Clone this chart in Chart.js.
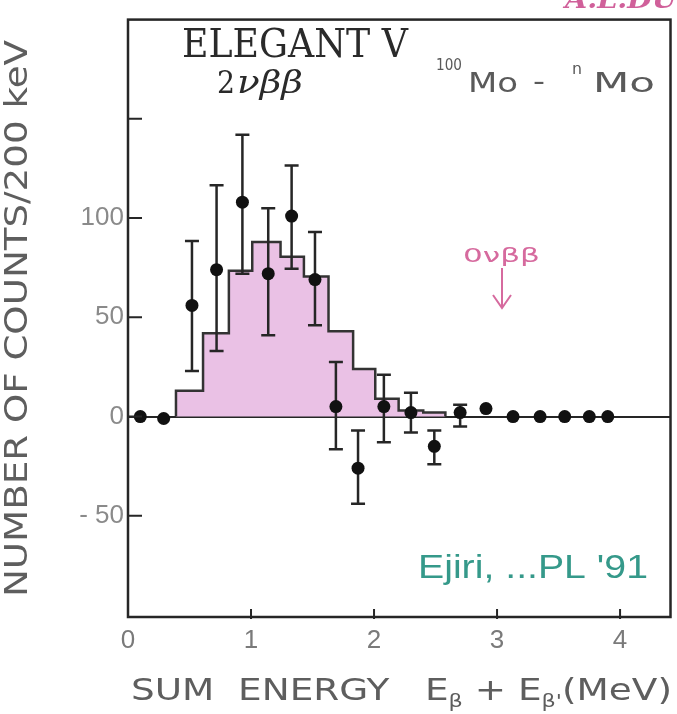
<!DOCTYPE html>
<html>
<head>
<meta charset="utf-8">
<title>ELEGANT V 2νββ sum energy spectrum</title>
<script src="https://cdn.jsdelivr.net/npm/chart.js@4.4.1/dist/chart.umd.min.js"></script>
<style>
  html, body { margin: 0; padding: 0; background: #fff; }
  canvas { display: block; }
</style>
</head>
<body>
<canvas id="myChart" width="677" height="714"></canvas>
<script>
// Expected 2vbb spectrum: bin edges (MeV) and counts in each bin
var binEdges = [0.39, 0.61, 0.82, 1.01, 1.24, 1.43, 1.63, 1.83, 2.01, 2.2, 2.4, 2.58];
var binCounts = [13, 42, 73.5, 88, 80.5, 70.5, 43, 24, 9, 3, 2];

// Measured 100Mo - natMo difference, with the ends of each error bar
var energies = [0.1, 0.29, 0.52, 0.72, 0.93, 1.14, 1.33, 1.52, 1.69, 1.87, 2.08, 2.3, 2.49, 2.7, 2.91, 3.13, 3.35, 3.55, 3.75, 3.9];
var counts   = [0, -1, 56, 74, 108, 72, 101, 69, 5, -26, 5, 2, -15, 2, 4, 0, 0, 0, 0, 0];
var errHigh  = [null, null, 88.5, 116.5, 142, 105, 126.5, 93, 27.5, -7, 21, 12, -7, 6, null, null, null, null, null, null];
var errLow   = [null, null, 23, 33, 72, 41, 74.5, 46, -16.5, -44, -13, -8, -24, -5, null, null, null, null, null, null];

// Axis ticks
var xTicks = [0, 1, 2, 3, 4];
var yTicks = [-50, 0, 50, 100, 150];
var yLabelled = [-50, 0, 50, 100];

// step outline: start on the baseline, hold each count to the next edge, drop back to 0
var histogram = [{ x: binEdges[0], y: 0 }];
for (var i = 0; i < binEdges.length; i++) {
  histogram.push({ x: binEdges[i], y: i < binCounts.length ? binCounts[i] : 0 });
}
var points = energies.map(function (e, i) { return { x: e, y: counts[i] }; });

var INK = '#262626';

function fitText(ctx, text, x, y, width) {
  var w = ctx.measureText(text).width;
  ctx.save();
  ctx.translate(x, y);
  ctx.scale(width / w, 1);
  ctx.textAlign = 'left';
  ctx.fillText(text, 0, 0);
  ctx.restore();
}

// text runs with subscripts, squeezed/stretched to a given width
function fitRuns(ctx, runs, x, y, width, font, subFont) {
  var total = 0;
  runs.forEach(function (r) { ctx.font = r[1] ? subFont : font; r.w = ctx.measureText(r[0]).width; total += r.w; });
  ctx.save();
  ctx.translate(x, y);
  ctx.scale(width / total, 1);
  var cx = 0;
  runs.forEach(function (r) {
    ctx.font = r[1] ? subFont : font;
    ctx.fillText(r[0], cx, r[1] ? 7 : 0);
    cx += r.w;
  });
  ctx.restore();
}

// error bars go in right before the dots, on top of the histogram
var errorBars = {
  id: 'errorBars',
  beforeDatasetDraw: function (chart, args) {
    if (args.index !== 1) return;
    var ctx = chart.ctx, xs = chart.scales.x, ys = chart.scales.y;
    ctx.save();
    ctx.strokeStyle = INK;
    ctx.lineWidth = 2.5;
    energies.forEach(function (e, i) {
      if (errHigh[i] === null) return;
      var px = xs.getPixelForValue(e);
      var top = ys.getPixelForValue(errHigh[i]);
      var bot = ys.getPixelForValue(errLow[i]);
      ctx.beginPath();
      ctx.moveTo(px, top); ctx.lineTo(px, bot);
      ctx.moveTo(px - 7, top); ctx.lineTo(px + 7, top);
      ctx.moveTo(px - 7, bot); ctx.lineTo(px + 7, bot);
      ctx.stroke();
    });
    ctx.restore();
  }
};

var frameAndText = {
  id: 'frameAndText',
  afterDraw: function (chart) {
    var ctx = chart.ctx, a = chart.chartArea, xs = chart.scales.x, ys = chart.scales.y;
    ctx.save();

    // frame
    ctx.strokeStyle = INK;
    ctx.lineWidth = 2.5;
    ctx.strokeRect(a.left, a.top, a.right - a.left, a.bottom - a.top);

    // inward tick marks
    ctx.lineWidth = 2;
    ctx.beginPath();
    yTicks.forEach(function (v) {
      var py = ys.getPixelForValue(v);
      ctx.moveTo(a.left, py); ctx.lineTo(a.left + 14, py);
    });
    xTicks.forEach(function (v) {
      if (v === 0) return;
      var px = xs.getPixelForValue(v);
      ctx.moveTo(px, a.bottom + 2); ctx.lineTo(px, a.bottom - 8);
    });
    ctx.stroke();

    ctx.textBaseline = 'alphabetic';

    // experiment name
    ctx.fillStyle = '#2a2a2a';
    ctx.font = '40px "DejaVu Serif"';
    fitText(ctx, 'ELEGANT V', 182, 57, 226);
    ctx.font = '32px "DejaVu Serif"';
    fitText(ctx, '2', 217, 93, 18);
    ctx.font = 'italic 32px "DejaVu Serif"';
    fitText(ctx, 'νββ', 237, 93, 66);

    // isotopes
    ctx.fillStyle = '#5a5a5a';
    ctx.font = '15px "DejaVu Sans"';
    fitText(ctx, '100', 436, 70, 26);
    ctx.font = '27px "DejaVu Sans"';
    fitText(ctx, 'Mo', 468, 92, 50);
    fitText(ctx, '-', 533, 90, 12);
    ctx.font = '15px "DejaVu Sans"';
    fitText(ctx, 'n', 572, 74, 10);
    ctx.font = '27px "DejaVu Sans"';
    fitText(ctx, 'Mo', 593, 92, 62);

    // 0vbb endpoint marker
    ctx.fillStyle = '#d66a9e';
    ctx.strokeStyle = '#d66a9e';
    ctx.font = '20px "DejaVu Sans"';
    fitText(ctx, '0νββ', 463, 262, 77);
    ctx.lineWidth = 2;
    ctx.beginPath();
    ctx.moveTo(502, 268); ctx.lineTo(502, 308);
    ctx.moveTo(493, 295); ctx.lineTo(502, 308); ctx.lineTo(511, 295);
    ctx.stroke();

    // reference
    ctx.fillStyle = '#35998a';
    ctx.font = '34px "Liberation Sans"';
    fitText(ctx, "Ejiri, ...PL '91", 418, 578, 230);

    // corner note, mostly cut off at the top edge
    ctx.fillStyle = '#d0609a';
    ctx.font = 'italic bold 26px "DejaVu Serif"';
    fitText(ctx, 'A.L.DU', 565, 8, 112);

    // axis titles
    ctx.fillStyle = '#5e5e5e';
    ctx.save();
    ctx.translate(27, 597);
    ctx.rotate(-Math.PI / 2);
    ctx.font = '32px "DejaVu Sans"';
    fitText(ctx, 'NUMBER OF COUNTS/200 keV', 0, 0, 557);
    ctx.restore();

    fitRuns(ctx, [['SUM  ENERGY   E', false], ['β', true], [' + E', false], ["β'", true], ['(MeV)', false]],
      131, 700, 541, '30px "DejaVu Sans"', '18px "DejaVu Sans"');

    ctx.restore();
  }
};

var myChart = new Chart(document.getElementById('myChart'), {
  type: 'scatter',
  data: {
    datasets: [
      {
        type: 'line',
        data: histogram,
        stepped: 'before',
        fill: 'origin',
        backgroundColor: '#eac1e5',
        borderColor: '#333',
        borderWidth: 2.5,
        pointRadius: 0,
        order: 2
      },
      {
        type: 'scatter',
        data: points,
        pointRadius: 6.5,
        backgroundColor: '#111',
        borderColor: '#111',
        borderWidth: 0,
        order: 1
      }
    ]
  },
  options: {
    responsive: false,
    animation: false,
    devicePixelRatio: 1,
    layout: { padding: { top: 15, right: 2, left: 0, bottom: 0 } },
    plugins: { legend: { display: false }, tooltip: { enabled: false } },
    scales: {
      x: {
        type: 'linear',
        min: 0,
        max: 4.41,
        afterBuildTicks: function (s) { s.ticks = xTicks.map(function (v) { return { value: v }; }); },
        afterFit: function (s) { s.height = 97; },
        grid: { display: false, drawTicks: false },
        border: { display: false },
        ticks: {
          padding: 8,
          color: '#7a7a7a',
          font: { family: 'Liberation Sans', size: 26 },
          maxRotation: 0
        }
      },
      y: {
        type: 'linear',
        min: -101,
        max: 200,
        afterBuildTicks: function (s) { s.ticks = yTicks.map(function (v) { return { value: v }; }); },
        afterFit: function (s) { s.width = 128; },
        grid: {
          drawTicks: false,
          lineWidth: 2,
          color: function (c) { return c.tick && c.tick.value === 0 ? '#262626' : 'rgba(0,0,0,0)'; }
        },
        border: { display: false },
        ticks: {
          padding: 4,
          color: '#8a8a8a',
          font: { family: 'Liberation Sans', size: 26 },
          callback: function (v) {
            if (yLabelled.indexOf(v) < 0) return '';
            return v < 0 ? '- ' + Math.abs(v) : String(v);
          }
        }
      }
    }
  },
  plugins: [errorBars, frameAndText]
});
</script>
</body>
</html>
